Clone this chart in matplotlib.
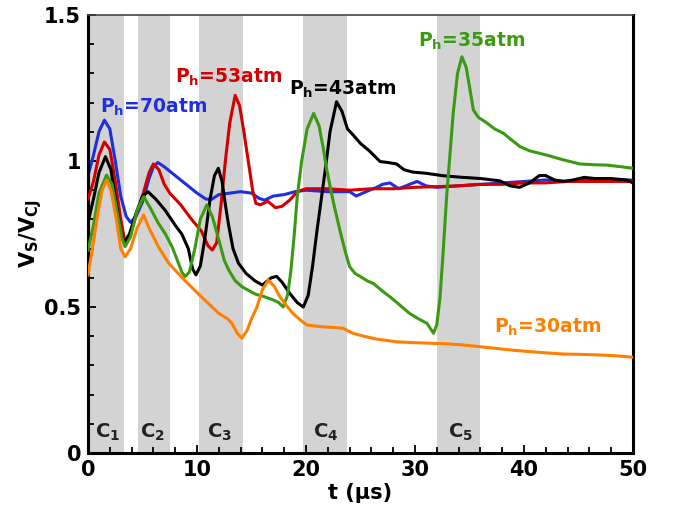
import matplotlib
matplotlib.use("Agg")
import matplotlib.pyplot as plt
from matplotlib.ticker import MultipleLocator

plt.rcParams['font.family'] = ['DejaVu Sans']
plt.rcParams['font.weight'] = 'bold'
plt.rcParams['mathtext.fontset'] = 'custom'
plt.rcParams['mathtext.rm'] = 'DejaVu Sans:bold'
plt.rcParams['mathtext.it'] = 'DejaVu Sans:bold'
plt.rcParams['mathtext.bf'] = 'DejaVu Sans:bold'

# ---- data ----
t_70 = [0.0, 0.5, 1.0, 1.5, 2.0, 2.5, 3.0, 3.5, 3.9, 4.4, 5.0, 5.6, 6.0, 6.4, 7.0, 8.0, 9.0, 10.0,
        10.8, 11.3, 12.0, 13.0, 14.0, 15.0, 15.7, 16.2, 17.0, 18.0, 19.0, 20.0, 22.0, 24.0, 24.6,
        25.5, 26.5, 27.0, 27.7, 28.5, 29.5, 30.2, 31.0, 32.0, 34.0, 36.0, 38.0, 40.0, 42.0, 44.0,
        46.0, 48.0, 50.0]
v_70 = [0.95, 1.02, 1.10, 1.14, 1.11, 1.00, 0.88, 0.81, 0.79, 0.81, 0.86, 0.94, 0.98, 0.995, 0.98,
        0.95, 0.92, 0.89, 0.87, 0.868, 0.885, 0.89, 0.895, 0.89, 0.872, 0.866, 0.88, 0.885, 0.895,
        0.90, 0.895, 0.895, 0.88, 0.895, 0.91, 0.92, 0.925, 0.905, 0.92, 0.93, 0.915, 0.91, 0.915,
        0.92, 0.925, 0.93, 0.935, 0.93, 0.935, 0.935, 0.935]

t_53 = [0.0, 0.5, 1.0, 1.5, 2.0, 2.5, 3.0, 3.4, 3.8, 4.3, 5.0, 5.6, 6.0, 6.5, 7.0, 7.5, 8.5, 9.5,
        10.4, 11.0, 11.4, 11.8, 12.2, 12.6, 13.0, 13.5, 13.9, 14.3, 14.7, 15.1, 15.4, 15.8, 16.5,
        17.2, 17.8, 18.5, 19.2, 20.0, 22.0, 24.0, 26.0, 28.0, 30.0, 32.0, 34.0, 36.0, 38.0, 40.0,
        42.0, 44.0, 46.0, 48.0, 50.0]
v_53 = [0.87, 0.93, 1.02, 1.065, 1.04, 0.93, 0.80, 0.72, 0.74, 0.80, 0.88, 0.96, 0.99, 0.97, 0.92,
        0.89, 0.85, 0.80, 0.76, 0.71, 0.695, 0.72, 0.85, 1.00, 1.13, 1.225, 1.19, 1.10, 1.00, 0.90,
        0.855, 0.85, 0.862, 0.84, 0.845, 0.866, 0.895, 0.905, 0.905, 0.90, 0.905, 0.905, 0.91,
        0.912, 0.915, 0.92, 0.92, 0.925, 0.925, 0.93, 0.93, 0.93, 0.93]

t_43 = [0.0, 0.5, 1.0, 1.6, 2.1, 2.6, 3.0, 3.3, 3.8, 4.4, 5.0, 5.5, 6.2, 7.1, 8.0, 8.6, 9.2, 9.6,
        9.9, 10.3, 10.7, 11.2, 11.6, 11.95, 12.3, 12.6, 12.9, 13.3, 13.8, 14.5, 15.3, 16.0, 16.8,
        17.3, 17.8, 18.5, 19.2, 19.75, 20.2, 20.6, 21.0, 21.4, 21.8, 22.2, 22.8, 23.3, 23.8, 24.3,
        25.0, 25.8, 26.8, 27.5, 28.3, 29.0, 29.8, 31.0, 32.5, 34.0, 36.0, 37.8, 38.7, 39.6, 40.5,
        41.4, 42.0, 42.8, 43.6, 44.5, 45.5, 46.5, 48.0, 49.4, 50.0]
v_43 = [0.79, 0.87, 0.96, 1.015, 0.97, 0.85, 0.76, 0.72, 0.75, 0.82, 0.88, 0.895, 0.87, 0.83,
        0.78, 0.75, 0.70, 0.63, 0.61, 0.64, 0.73, 0.87, 0.95, 0.975, 0.93, 0.85, 0.78, 0.70, 0.65,
        0.615, 0.59, 0.575, 0.60, 0.605, 0.585, 0.547, 0.515, 0.50, 0.54, 0.64, 0.76, 0.87, 0.98,
        1.10, 1.203, 1.17, 1.11, 1.09, 1.06, 1.035, 0.998, 0.995, 0.99, 0.97, 0.962, 0.958, 0.95,
        0.945, 0.94, 0.932, 0.915, 0.91, 0.925, 0.95, 0.95, 0.935, 0.93, 0.935, 0.944, 0.94, 0.94,
        0.935, 0.925]

t_35 = [0.0, 0.5, 1.0, 1.7, 2.2, 2.7, 3.1, 3.4, 3.9, 4.5, 5.1, 5.7, 6.45, 7.1, 7.7, 8.3, 8.6, 8.9,
        9.3, 9.8, 10.3, 10.9, 11.4, 12.0, 12.5, 12.9, 13.5, 14.1, 15.3, 16.2, 17.0, 17.5, 17.9,
        18.3, 18.6, 18.9, 19.2, 19.6, 20.1, 20.7, 21.2, 21.6, 21.9, 22.5, 23.1, 23.6, 24.0, 24.5,
        25.0, 25.6, 26.2, 27.0, 27.7, 28.5, 29.5, 30.3, 31.1, 31.7, 32.0, 32.3, 32.6, 32.9, 33.2,
        33.5, 33.9, 34.3, 34.7, 35.0, 35.35, 35.8, 36.6, 37.3, 38.1, 39.6, 40.5, 42.1, 43.5, 45.1,
        46.5, 47.6, 49.0, 50.0]
v_35 = [0.695, 0.78, 0.89, 0.952, 0.92, 0.82, 0.74, 0.707, 0.74, 0.83, 0.878, 0.84, 0.787, 0.75,
        0.707, 0.65, 0.62, 0.604, 0.62, 0.70, 0.80, 0.85, 0.81, 0.73, 0.66, 0.627, 0.59, 0.57,
        0.545, 0.535, 0.524, 0.515, 0.50, 0.54, 0.62, 0.74, 0.88, 1.00, 1.11, 1.163, 1.12, 1.04,
        0.97, 0.86, 0.764, 0.69, 0.638, 0.615, 0.604, 0.59, 0.58, 0.555, 0.535, 0.51, 0.478, 0.46,
        0.444, 0.41, 0.44, 0.535, 0.70, 0.878, 1.02, 1.163, 1.30, 1.357, 1.32, 1.254, 1.175, 1.15,
        1.13, 1.11, 1.095, 1.05, 1.035, 1.02, 1.005, 0.99, 0.987, 0.986, 0.98, 0.975]

t_30 = [0.0, 0.4, 0.9, 1.3, 1.7, 2.1, 2.6, 3.0, 3.4, 3.9, 4.5, 5.1, 5.6, 6.45, 7.4, 8.9, 10.4,
        12.0, 12.8, 13.2, 13.7, 14.1, 14.6, 15.0, 15.5, 16.0, 16.55, 17.1, 17.6, 18.2, 18.8, 19.5,
        20.1, 21.6, 22.5, 23.4, 24.3, 25.3, 26.5, 28.3, 29.8, 31.4, 33.0, 34.4, 36.0, 37.5, 39.0,
        40.6, 42.0, 43.6, 45.0, 46.7, 48.4, 50.0]
v_30 = [0.61, 0.70, 0.82, 0.90, 0.935, 0.90, 0.80, 0.70, 0.672, 0.70, 0.77, 0.815, 0.77, 0.707,
        0.65, 0.59, 0.535, 0.478, 0.46, 0.444, 0.41, 0.393, 0.42, 0.46, 0.50, 0.56, 0.592, 0.57,
        0.535, 0.505, 0.478, 0.455, 0.438, 0.432, 0.43, 0.427, 0.41, 0.40, 0.39, 0.381, 0.378,
        0.376, 0.374, 0.37, 0.364, 0.358, 0.352, 0.347, 0.343, 0.339, 0.338, 0.336, 0.333, 0.328]

band_start = [0.2, 4.6, 10.2, 19.7, 32.0]
band_end = [3.3, 7.5, 14.2, 23.8, 36.0]
band_labels = [r'C$_\mathregular{1}$', r'C$_\mathregular{2}$', r'C$_\mathregular{3}$',
               r'C$_\mathregular{4}$', r'C$_\mathregular{5}$']
band_label_t = [0.6, 4.8, 10.9, 20.6, 33.0]

series_labels = [r'P$_\mathregular{h}$=70atm', r'P$_\mathregular{h}$=53atm',
                 r'P$_\mathregular{h}$=43atm', r'P$_\mathregular{h}$=35atm',
                 r'P$_\mathregular{h}$=30atm']
label_pos = [(1.1, 1.164), (8.0, 1.267), (18.4, 1.228), (30.3, 1.39), (37.2, 0.411)]

colors = ['#1f2fe0', '#d40000', '#000000', '#3a9a12', '#ff8000']

# ---- plot ----
fig = plt.figure(figsize=(6.73, 5.12), dpi=100)
ax = fig.add_axes([0.1308, 0.1152, 0.8098, 0.8555])

for s, e in zip(band_start, band_end):
    ax.axvspan(s, e, color='#d3d3d3', lw=0, zorder=0)

lw = 2.2
ax.plot(t_70, v_70, color=colors[0], lw=lw, zorder=2)
ax.plot(t_53, v_53, color=colors[1], lw=lw, zorder=3)
ax.plot(t_43, v_43, color=colors[2], lw=lw, zorder=4)
ax.plot(t_35, v_35, color=colors[3], lw=lw, zorder=5)
ax.plot(t_30, v_30, color=colors[4], lw=lw, zorder=6)

for lab, (x, y), c in zip(series_labels, label_pos, colors):
    ax.text(x, y, lab, color=c, fontsize=13.5, fontweight='bold', ha='left', va='baseline',
            zorder=7)

for lab, x in zip(band_labels, band_label_t):
    ax.text(x, 0.051, lab, color='#222222', fontsize=14, fontweight='bold', ha='left',
            va='baseline', zorder=7)

ax.set_xlim(0, 50)
ax.set_ylim(0, 1.5)
ax.xaxis.set_major_locator(MultipleLocator(10))
ax.xaxis.set_minor_locator(MultipleLocator(2))
ax.yaxis.set_minor_locator(MultipleLocator(0.1))
ax.set_yticks([0, 0.5, 1, 1.5])
ax.set_yticklabels(['0', '0.5', '1', '1.5'])
ax.tick_params(which='both', direction='in', width=1.3, labelsize=15, pad=5)
ax.tick_params(which='major', length=6)
ax.tick_params(which='minor', length=4)
for lbl in ax.get_xticklabels() + ax.get_yticklabels():
    lbl.set_fontweight('bold')

for side in ['left', 'bottom', 'right']:
    ax.spines[side].set_linewidth(2.2)
ax.spines['top'].set_linewidth(1.2)
ax.spines['top'].set_color('#444444')

ax.set_xlabel('t (\u03bcs)', fontsize=15, fontweight='bold', labelpad=2)
ax.set_ylabel(r'V$_\mathregular{S}$/V$_\mathregular{CJ}$', fontsize=15, fontweight='bold')
ax.yaxis.set_label_coords(-0.08, 0.5)

fig.savefig('out.png', dpi=100)
